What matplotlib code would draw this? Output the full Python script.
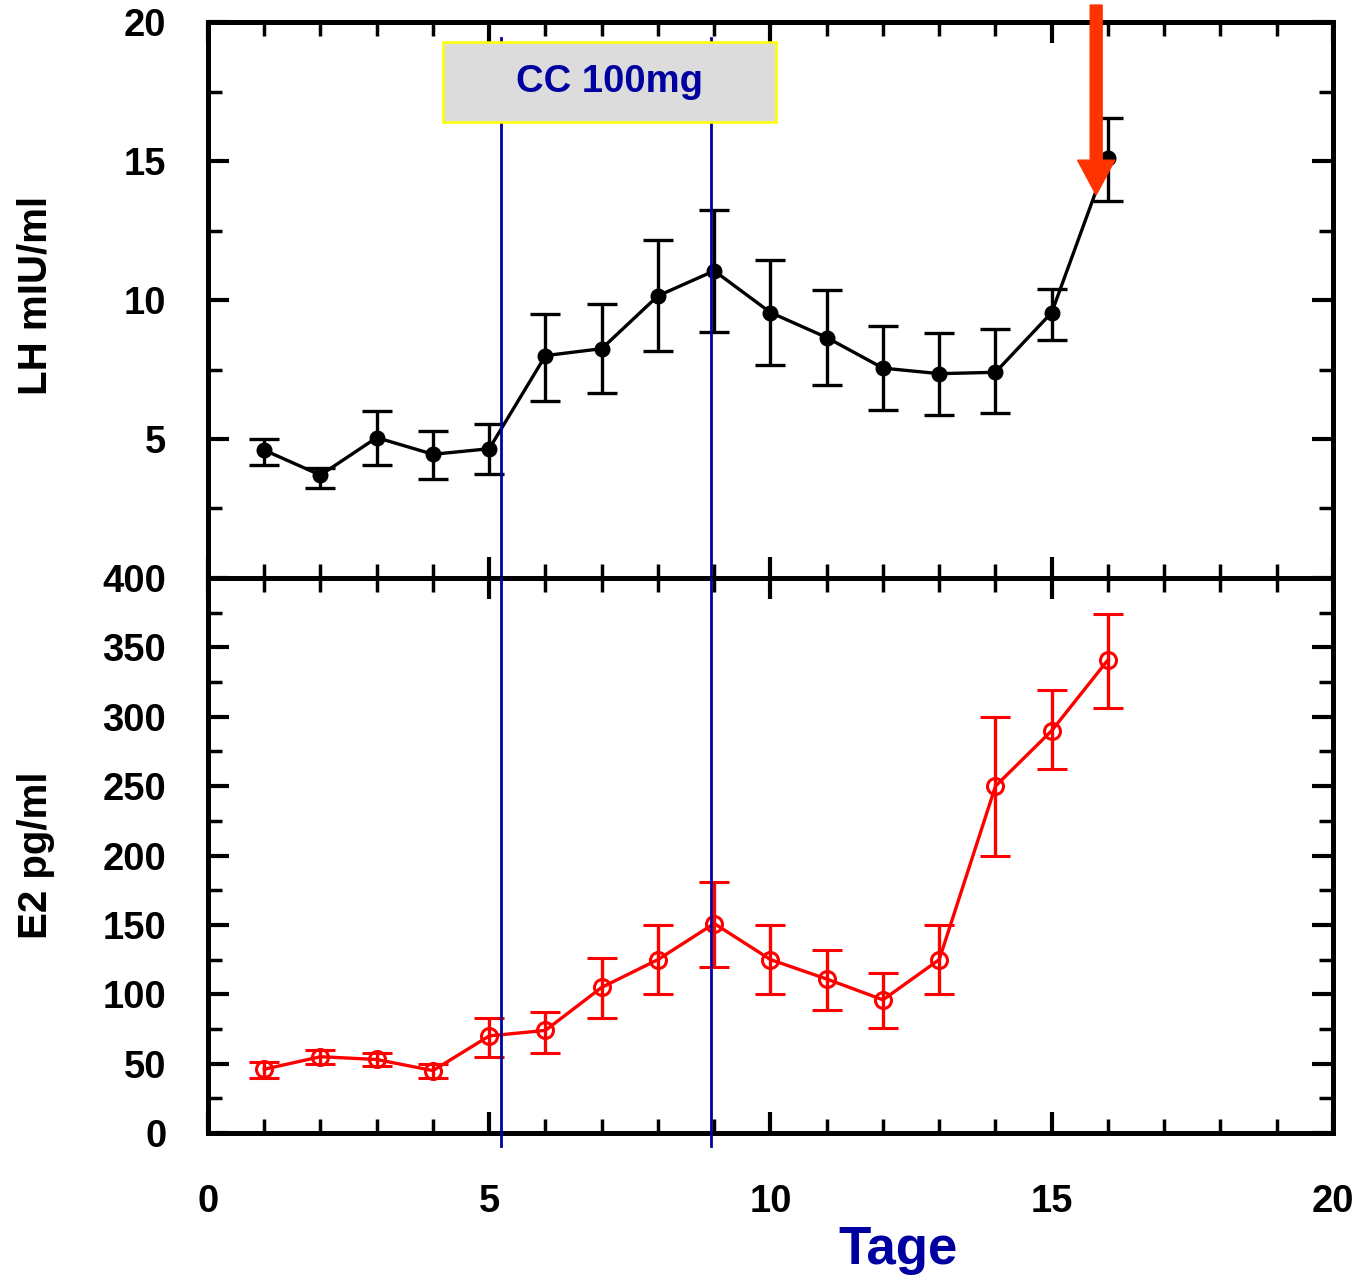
import matplotlib
matplotlib.use('Agg')
import matplotlib.pyplot as plt
from matplotlib.patches import Rectangle, FancyArrow
from matplotlib.ticker import MultipleLocator

plt.rcParams['font.family'] = ['Liberation Sans', 'DejaVu Sans']
plt.rcParams['font.weight'] = 'bold'

# ── Data ────────────────────────────────────────────────────────────────────
days = [1, 2, 3, 4, 5, 6, 7, 8, 9, 10, 11, 12, 13, 14, 15, 16]

lh      = [4.6, 3.7, 5.05, 4.45, 4.65, 8.0, 8.25, 10.15, 11.05, 9.55, 8.65, 7.55, 7.35, 7.4, 9.55, 15.1]
lh_low  = [0.55, 0.45, 1.0, 0.9, 0.9, 1.65, 1.6, 2.0, 2.2, 1.9, 1.7, 1.5, 1.5, 1.45, 1.0, 1.55]
lh_high = [0.4, 0.25, 0.95, 0.85, 0.9, 1.5, 1.6, 2.0, 2.2, 1.9, 1.7, 1.5, 1.45, 1.55, 0.85, 1.45]

e2      = [46, 55, 53, 45, 70, 74, 105, 125, 151, 125, 111, 96, 125, 250, 290, 341]
e2_low  = [6, 5, 5, 5, 15, 16, 22, 25, 31, 25, 22, 20, 25, 50, 28, 35]
e2_high = [5, 5, 5, 5, 13, 13, 21, 25, 30, 25, 21, 19, 25, 50, 29, 33]

cc_start, cc_end = 5.21, 8.94     # clomiphene window (days)
cc_label = 'CC 100mg'
surge_day = 15.79                 # arrow marking the LH peak

BLUE = '#0000A0'

fig = plt.figure(figsize=(13.62, 12.81), dpi=100)
ax_top = fig.add_axes([0.1527, 0.5488, 0.826, 0.434])
ax_bot = fig.add_axes([0.1527, 0.1155, 0.826, 0.4333])


def style(ax, ymajor, yminor):
    for s in ax.spines.values():
        s.set_linewidth(3.6)
    ax.set_xlim(0, 20)
    ax.xaxis.set_major_locator(MultipleLocator(5))
    ax.xaxis.set_minor_locator(MultipleLocator(1))
    ax.yaxis.set_major_locator(MultipleLocator(ymajor))
    ax.yaxis.set_minor_locator(MultipleLocator(yminor))
    ax.tick_params(which='both', direction='in', top=True, right=True)
    ax.tick_params(which='major', length=15, width=3)
    ax.tick_params(which='minor', length=10, width=2.5)
    ax.tick_params(axis='y', labelsize=27.5, pad=30)
    ax.tick_params(axis='x', labelsize=27.5, pad=37)


# ── Top: LH ─────────────────────────────────────────────────────────────────
style(ax_top, 5, 2.5)
ax_top.set_ylim(0, 20)
ax_top.set_yticks([5, 10, 15, 20])
ax_top.tick_params(axis='x', labelbottom=False)
ax_top.errorbar(days, lh, yerr=[lh_low, lh_high], color='black', lw=2.4,
                marker='o', ms=10.5, capsize=11, capthick=2.4, elinewidth=2.4, zorder=3)

# ── Bottom: E2 ──────────────────────────────────────────────────────────────
style(ax_bot, 50, 25)
ax_bot.set_ylim(0, 400)
ax_bot.errorbar(days, e2, yerr=[e2_low, e2_high], color='#FF0000', lw=2.4,
                marker='o', ms=11.5, mfc='none', mew=2.2, capsize=11, capthick=2.4,
                elinewidth=2.4, zorder=3)

# ── CC window lines across both panels ──────────────────────────────────────
for xv in (cc_start, cc_end):
    ax_top.plot([xv, xv], [0, 19.42], color=BLUE, lw=2, clip_on=False, zorder=4)
    ax_bot.plot([xv, xv], [-9, 400], color=BLUE, lw=2, clip_on=False, zorder=4)

ax_top.add_patch(Rectangle((4.18, 16.4), 5.92, 2.88, facecolor='#DCDCDC',
                           edgecolor='#FFFF00', lw=1.8, zorder=5))
ax_top.text((4.18 + 10.1) / 2, 17.84, cc_label, color=BLUE, fontsize=27.5,
            fontweight='bold', ha='center', va='center', zorder=6)

ax_top.add_patch(FancyArrow(surge_day, 20.61, 0, -6.83, width=0.213,
                            head_width=0.66, head_length=1.25,
                            length_includes_head=True, color='#FF3300',
                            clip_on=False, zorder=7))

# ── Labels ──────────────────────────────────────────────────────────────────
fig.text(36 / 1362, 1 - 295 / 1281, 'LH mIU/ml', rotation=90, fontsize=29,
         fontweight='bold', ha='center', va='center')
fig.text(36 / 1362, 1 - 855 / 1281, 'E2 pg/ml', rotation=90, fontsize=29,
         fontweight='bold', ha='center', va='center')
fig.text(898 / 1362, 1 - 1250 / 1281, 'Tage', color=BLUE, fontsize=38,
         fontweight='bold', ha='center', va='center')

fig.savefig('out.png', dpi=100, facecolor='white')
